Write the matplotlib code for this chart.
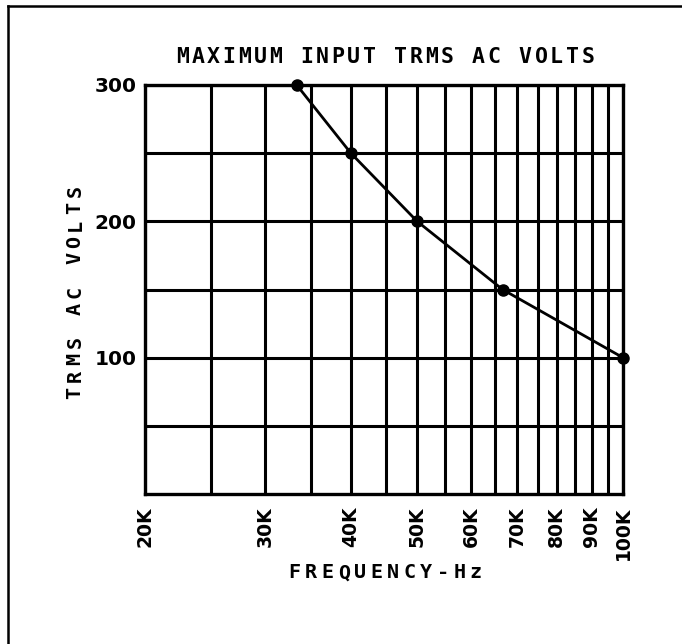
import matplotlib
matplotlib.use("Agg")
import matplotlib.pyplot as plt
from matplotlib.lines import Line2D

# Data
freq_hz = [33333, 40000, 50000, 66667, 100000]
volts = [300, 250, 200, 150, 100]
x_tick_vals = [20000, 30000, 40000, 50000, 60000, 70000, 80000, 90000, 100000]
x_tick_labels = ["20K", "30K", "40K", "50K", "60K", "70K", "80K", "90K", "100K"]
x_minor_vals = [25000, 35000, 45000, 55000, 65000, 75000, 85000, 95000]
y_tick_vals = [100, 200, 300]
y_tick_labels = ["100", "200", "300"]
y_minor_vals = [50, 150, 250]
title = "MAXIMUM INPUT TRMS AC VOLTS"
xlabel = "FREQUENCY-Hz"
ylabel = "TRMS AC VOLTS"

W, H = 682, 644
fig = plt.figure(figsize=(W / 100, H / 100), dpi=100)
ax = fig.add_axes([145 / W, 1 - 494 / H, (623 - 145) / W, (494 - 85) / H])

FONT = "DejaVu Sans Mono"
TICKFONT = "DejaVu Sans"

ax.set_xscale("log")
ax.set_xlim(20000, 100000)
ax.set_ylim(0, 300)

ax.plot(freq_hz, volts, color="black", lw=2.0, marker="o", ms=8,
        solid_capstyle="round", zorder=5, clip_on=False)

ax.set_xticks(x_tick_vals)
ax.set_xticklabels(x_tick_labels, rotation=90, fontfamily=TICKFONT,
                   fontweight="bold", fontsize=13.5)
ax.set_xticks(x_minor_vals, minor=True)
ax.set_xticklabels([], minor=True)
ax.set_yticks(y_tick_vals)
ax.set_yticklabels(y_tick_labels, fontfamily=TICKFONT, fontweight="bold",
                   fontsize=14.5)
ax.set_yticks(y_minor_vals, minor=True)
ax.tick_params(axis="both", which="both", length=0)
ax.tick_params(axis="x", pad=9)
ax.tick_params(axis="y", pad=6)

ax.grid(True, which="both", color="black", lw=2.2)
for s in ax.spines.values():
    s.set_linewidth(2.4)

def spaced_text(xc, yc, text, size, step, rotation=0):
    n = len(text)
    for i, ch in enumerate(text):
        off = (i - (n - 1) / 2) * step
        if rotation == 0:
            x, y = xc + off / W, yc
        else:
            x, y = xc, yc + off / H
        fig.text(x, y, ch, fontsize=size, fontfamily=FONT, fontweight="bold",
                 ha="center", va="center", rotation=rotation)

# title
spaced_text(385 / W, 1 - 57 / H, title, 15.5, 15.6)
# x label
spaced_text(385 / W, 1 - 573 / H, xlabel, 14.5, 16.5)
# y label
spaced_text(75 / W, 1 - 292 / H, ylabel, 14.5, 16.8, rotation=90)

# page frame lines (left and top)
fig.add_artist(Line2D([8 / W, 8 / W], [0, 1 - 6 / H], color="black", lw=1.8,
                      transform=fig.transFigure))
fig.add_artist(Line2D([8 / W, 1], [1 - 6 / H, 1 - 6 / H], color="black", lw=1.8,
                      transform=fig.transFigure))

fig.savefig("out.png", dpi=100)
